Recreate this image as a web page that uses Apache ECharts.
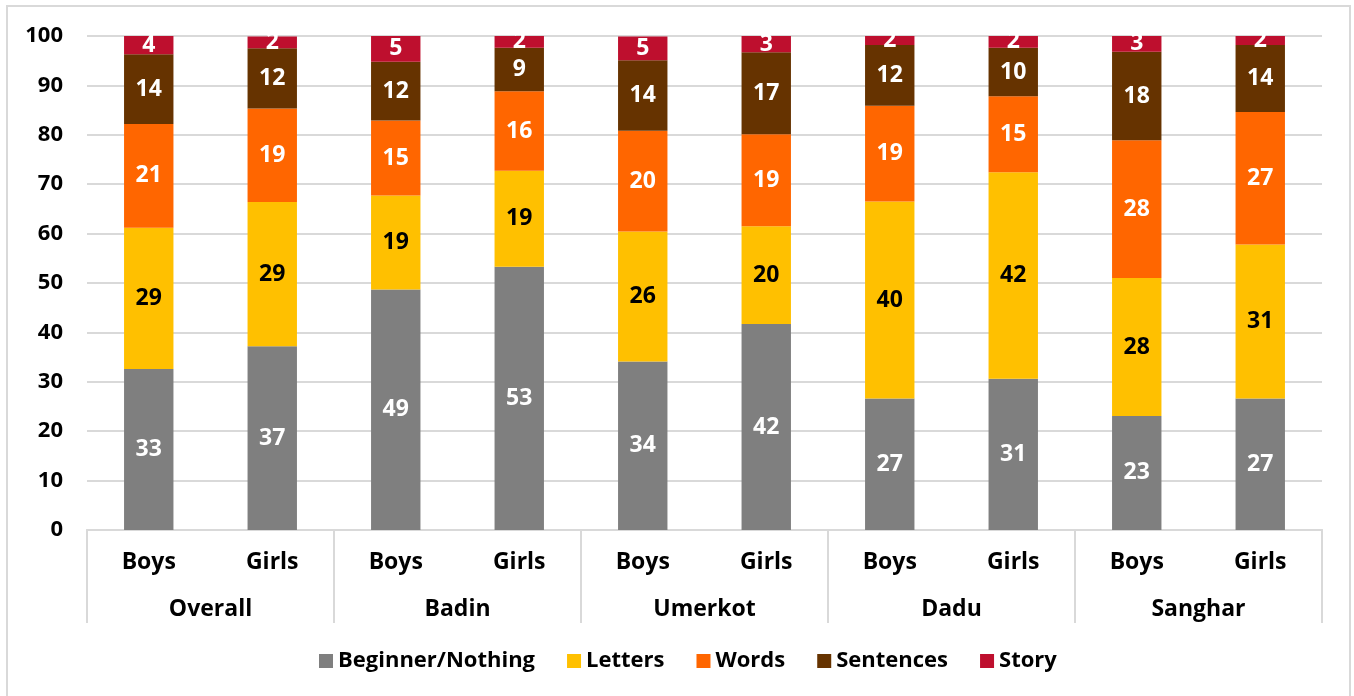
<!DOCTYPE html>
<html>
<head>
<meta charset="utf-8">
<script src="https://cdn.jsdelivr.net/npm/echarts@6/dist/echarts.min.js"></script>
<style>
  html, body { margin: 0; padding: 0; background: #ffffff; }
  #chart { width: 1354px; height: 696px; }
</style>
</head>
<body>
<div id="chart"></div>
<script>
// Reading level shares (%) by district and gender
const genders = ['Boys', 'Girls', 'Boys', 'Girls', 'Boys', 'Girls', 'Boys', 'Girls', 'Boys', 'Girls'];
const districts = ['Overall', 'Badin', 'Umerkot', 'Dadu', 'Sanghar'];
const yTicks = [0, 10, 20, 30, 40, 50, 60, 70, 80, 90, 100];

const beginner  = [32.6, 37.2, 48.7, 53.3, 34.1, 41.7, 26.6, 30.6, 23.1, 26.6];
const letters   = [28.6, 29.2, 19.0, 19.4, 26.3, 19.8, 39.9, 41.8, 27.9, 31.2];
const words     = [21.0, 18.9, 15.2, 16.1, 20.4, 18.6, 19.4, 15.4, 27.9, 26.8];
const sentences = [14.1, 12.2, 11.9,  8.8, 14.3, 16.6, 12.3,  9.8, 17.9, 13.6];
const story     = [ 3.7,  2.4,  5.2,  2.4,  4.8,  3.3,  1.8,  2.4,  3.2,  1.8];

const FONT = 'Open Sans';
const GRID_COLOR = '#d9d9d9';

function makeSeries(name, data, color, labelColor) {
  return {
    name: name,
    type: 'bar',
    stack: 'total',
    xAxisIndex: 0,
    barWidth: '40%',
    data: data,
    itemStyle: { color: color },
    label: {
      show: true,
      position: 'inside',
      color: labelColor,
      fontFamily: FONT,
      fontWeight: 'bold',
      fontSize: 23,
      formatter: p => Math.round(p.value)
    }
  };
}

const chart = echarts.init(document.getElementById('chart'), null, { renderer: 'canvas' });

chart.setOption({
  animation: false,
  backgroundColor: '#ffffff',
  textStyle: { fontFamily: FONT },
  graphic: [{
    type: 'rect',
    shape: { x: 7, y: 6, width: 1343, height: 700 },
    style: { fill: 'none', stroke: GRID_COLOR, lineWidth: 2 },
    silent: true
  }],
  grid: { left: 87, right: 32, top: 36, bottom: 166 },
  legend: {
    bottom: 19,
    left: 314,
    itemWidth: 14,
    itemHeight: 14,
    itemGap: 32,
    icon: 'rect',
    textStyle: { fontFamily: FONT, fontWeight: 'bold', fontSize: 22, color: '#000' },
    data: ['Beginner/Nothing', 'Letters', 'Words', 'Sentences', 'Story']
  },
  xAxis: [
    {
      type: 'category',
      data: genders,
      position: 'bottom',
      axisLine: { show: true, lineStyle: { color: GRID_COLOR, width: 2 } },
      axisTick: { show: false },
      axisLabel: { margin: 21, color: '#000', fontFamily: FONT, fontWeight: 'bold', fontSize: 23, interval: 0 }
    },
    {
      type: 'category',
      data: districts,
      position: 'bottom',
      offset: 0,
      axisLine: { show: true, lineStyle: { color: GRID_COLOR, width: 2 } },
      axisTick: { show: true, length: 93, lineStyle: { color: GRID_COLOR, width: 2 } },
      axisLabel: { margin: 68, color: '#000', fontFamily: FONT, fontWeight: 'bold', fontSize: 23, interval: 0 },
      splitLine: { show: false }
    }
  ],
  yAxis: {
    type: 'value',
    min: yTicks[0],
    max: yTicks[yTicks.length - 1],
    interval: yTicks[1] - yTicks[0],
    axisLine: { show: false },
    axisTick: { show: false },
    axisLabel: { margin: 24, color: '#000', fontFamily: FONT, fontWeight: 'bold', fontSize: 22 },
    splitLine: { show: true, lineStyle: { color: GRID_COLOR, width: 2 } }
  },
  series: [
    makeSeries('Beginner/Nothing', beginner, '#7f7f7f', '#ffffff'),
    makeSeries('Letters', letters, '#ffc000', '#000000'),
    makeSeries('Words', words, '#ff6600', '#ffffff'),
    makeSeries('Sentences', sentences, '#663300', '#ffffff'),
    makeSeries('Story', story, '#be0f2e', '#ffffff')
  ]
});
</script>
</body>
</html>
